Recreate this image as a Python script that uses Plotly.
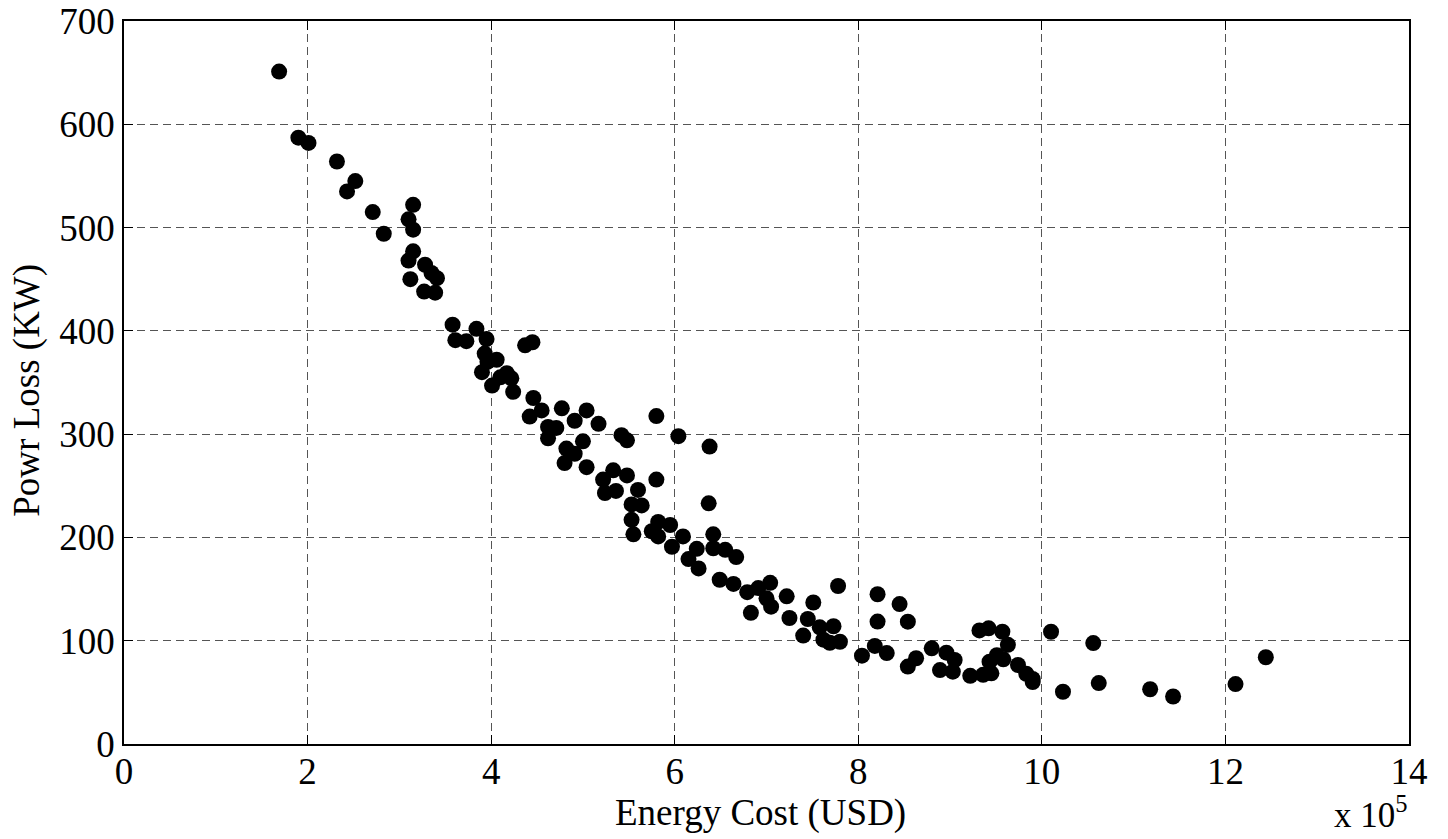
import plotly.graph_objects as go

# Energy cost in units of 1e5 USD, power loss in kW
energy_cost = [
    1.69, 1.90, 2.01, 2.32, 2.52, 2.43, 2.71, 2.83, 3.15, 3.10,
    3.15, 3.15, 3.10, 3.28, 3.35, 3.41, 3.12, 3.27, 3.39, 3.58,
    3.84, 3.61, 3.73, 3.95, 4.37, 4.45, 3.93, 4.06, 3.96, 3.90,
    4.17, 4.22, 4.10, 4.01, 4.24, 4.46, 4.55, 4.42, 4.77, 5.04,
    4.91, 5.17, 4.62, 4.71, 4.62, 5.42, 5.48, 4.82, 5.00, 4.91,
    4.80, 5.04, 5.22, 5.33, 5.48, 5.24, 5.36, 5.80, 6.04, 6.38,
    5.80, 5.60, 5.53, 5.64, 6.37, 5.53, 5.55, 5.75, 5.82, 5.95,
    5.82, 6.09, 5.97, 6.24, 6.15, 6.26, 6.42, 6.42, 6.55, 6.67,
    6.49, 6.64, 6.79, 6.91, 7.04, 7.00, 7.05, 6.83, 7.22, 7.51,
    7.78, 7.25, 7.45, 7.40, 7.58, 7.73, 7.62, 7.69, 7.80, 8.21,
    8.45, 8.21, 8.54, 8.04, 8.18, 8.31, 8.54, 8.63, 8.80, 8.89,
    8.96, 9.05, 9.03, 9.22, 9.36, 9.45, 9.43, 9.32, 9.42, 9.57,
    9.63, 9.51, 9.58, 9.74, 9.83, 9.90, 9.90, 10.10, 10.23, 10.56,
    10.62, 11.18, 11.43, 12.11, 12.44,
]
power_loss = [
    651, 587, 582, 564, 545, 535, 515, 494, 522, 508,
    498, 477, 468, 464, 456, 451, 450, 438, 437, 406,
    402, 391, 390, 392, 386, 389, 378, 372, 370, 360,
    359, 354, 355, 347, 341, 335, 323, 317, 325, 323,
    313, 310, 307, 306, 296, 299, 294, 286, 293, 281,
    272, 268, 256, 265, 260, 243, 245, 317.5, 298, 288,
    256, 246, 232, 231, 233, 217, 203, 206, 215, 212,
    201, 201, 191, 189, 179, 170, 203, 189.5, 188, 181,
    159, 155, 147, 151, 156, 141, 133, 127, 143, 137,
    153, 122, 121, 105, 113, 114, 101, 98, 99, 145,
    135.5, 118.5, 118.4, 85.5, 95, 88, 75, 83, 92.6, 71.6,
    88.4, 81.3, 70, 66, 67, 68.4, 79.7, 110, 112, 108.7,
    96, 86, 82, 76.5, 68, 63, 60, 108.7, 50.6, 97.7,
    59, 53, 46, 58, 84,
]

x_ticks = [0, 2, 4, 6, 8, 10, 12, 14]
y_ticks = [0, 100, 200, 300, 400, 500, 600, 700]

FONT = "Liberation Serif"

fig = go.Figure()
fig.add_trace(go.Scatter(
    x=energy_cost, y=power_loss, mode="markers",
    marker=dict(color="black", size=16, line=dict(width=0)),
    showlegend=False,
))

axis_common = dict(
    showline=True, linecolor="black", linewidth=1.5, mirror="ticks",
    ticks="inside", ticklen=9, tickcolor="black", tickwidth=1,
    showgrid=True, gridcolor="#555555", gridwidth=1, griddash="8px,5px",
    zeroline=False, automargin=False, ticklabeloverflow="allow",
    tickfont=dict(family=FONT, size=37, color="black"),
)

fig.update_layout(
    width=1448, height=839,
    paper_bgcolor="white", plot_bgcolor="white",
    margin=dict(l=124, r=39, t=21, b=95),
    xaxis=dict(range=[0, 14], tickvals=x_ticks, ticktext=[str(v) for v in x_ticks],
               ticklabelstandoff=-6, **axis_common),
    yaxis=dict(range=[0, 700], tickvals=y_ticks, ticktext=[str(v) for v in y_ticks], **axis_common),
    annotations=[
        dict(text="Energy Cost (USD)", xref="paper", yref="paper", x=0.4957, y=-0.095,
             xanchor="center", yanchor="middle", showarrow=False,
             font=dict(family=FONT, size=37, color="black")),
        dict(text="Powr Loss (KW)", xref="paper", yref="paper", x=-0.0755, y=0.49,
             xanchor="center", yanchor="middle", textangle=-90, showarrow=False,
             font=dict(family=FONT, size=37, color="black")),
        dict(text="x 10<sup>5</sup>", xref="paper", yref="paper", x=1.001, y=-0.128,
             xanchor="right", yanchor="bottom", showarrow=False,
             font=dict(family=FONT, size=35, color="black")),
    ],
)

fig.write_html("out.html", config={"displayModeBar": False},
               post_script="document.body.style.margin='0';document.body.style.overflow='hidden';")
